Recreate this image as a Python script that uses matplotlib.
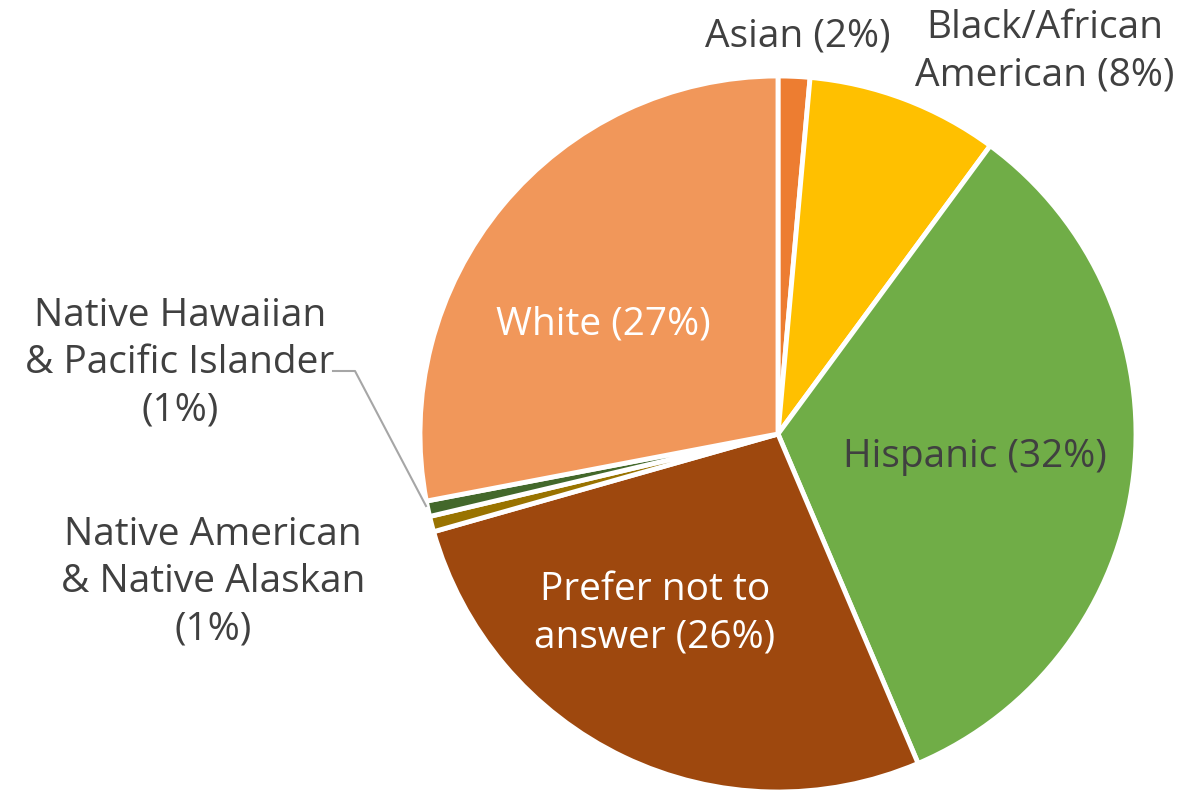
import matplotlib.pyplot as plt

# slice sizes (clockwise from 12 o'clock)
groups = ['Asian', 'Black/African American', 'Hispanic', 'Prefer not to answer',
          'Native American & Native Alaskan', 'Native Hawaiian & Pacific Islander', 'White']
shares = [1.43, 8.67, 33.5, 27.0, 0.7, 0.7, 28.0]
labels = ['Asian (2%)', 'Black/African\nAmerican (8%)', 'Hispanic (32%)',
          'Prefer not to\nanswer (26%)', 'Native American\n& Native Alaskan\n(1%)',
          'Native Hawaiian\n& Pacific Islander\n(1%)', 'White (27%)']
colors = ['#ED7D31', '#FFC000', '#70AD47', '#9E480E', '#997300', '#43682B', '#F1975A']

W, H = 1204, 790
cx, cy, r = 778, 434, 358

plt.rcParams['font.family'] = ['Open Sans', 'DejaVu Sans']
fig = plt.figure(figsize=(W / 100, H / 100), dpi=100)
ax = fig.add_axes([(cx - r) / W, (H - cy - r) / H, 2 * r / W, 2 * r / H])
ax.pie(shares, colors=colors, startangle=90, counterclock=False, radius=1,
       wedgeprops=dict(edgecolor='white', linewidth=3.5))
ax.set_xlim(-1, 1)
ax.set_ylim(-1, 1)
ax.set_aspect('equal')
ax.axis('off')


def px(x, y):
    # pixel position in the picture -> data coords of the pie axes
    return (x - cx) / r, (cy - y) / r


# label centres in picture pixels and text colours
spots = [(798, 36), (1045, 52), (975, 457), (655, 614), (213, 582), (180, 363), (603, 325)]
tcol = ['#404040', '#404040', '#404040', 'white', '#404040', '#404040', 'white']
for lab, (x, y), c in zip(labels, spots, tcol):
    tx, ty = px(x, y)
    ax.text(tx, ty, lab, ha='center', va='center', fontsize=28, color=c,
            linespacing=1.32, clip_on=False)

# leader line for Native Hawaiian
lx, ly = zip(px(333, 371), px(355, 371), px(426, 506))
ax.plot(lx, ly, color='#A6A6A6', lw=1.5, clip_on=False)

fig.savefig('out.png', dpi=100)
